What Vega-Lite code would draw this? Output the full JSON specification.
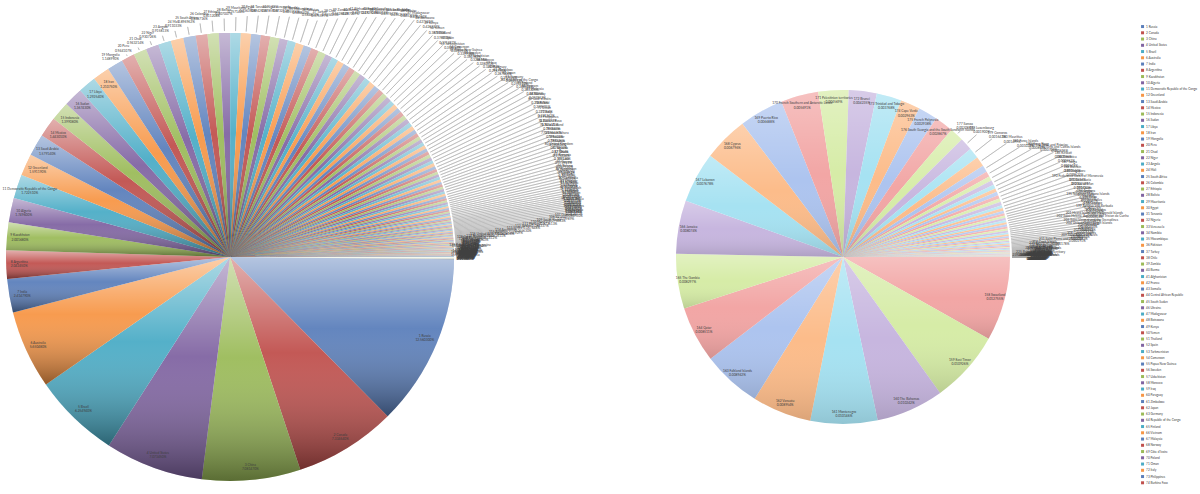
{
"$schema": "https://vega.github.io/schema/vega-lite/v6.json",
"padding": 0,
"background": "white",
"config": {"view": {"stroke": null}, "font": "Lato"},
"datasets": {
"main": [
{"n":1,"name":"1 Russia","share":0.125603},
{"n":2,"name":"2 Canada","share":0.0733464},
{"n":3,"name":"3 China","share":0.0708147},
{"n":4,"name":"4 United States","share":0.0707345},
{"n":5,"name":"5 Brazil","share":0.0625494},
{"n":6,"name":"6 Australia","share":0.0565048},
{"n":7,"name":"7 India","share":0.0241479},
{"n":8,"name":"8 Argentina","share":0.0204245},
{"n":9,"name":"9 Kazakhstan","share":0.0200168},
{"n":10,"name":"10 Algeria","share":0.017496},
{"n":11,"name":"11 Democratic Republic of the Congo","share":0.0172251},
{"n":12,"name":"12 Greenland","share":0.0159119},
{"n":13,"name":"13 Saudi Arabia","share":0.0157914},
{"n":14,"name":"14 Mexico","share":0.0144301},
{"n":15,"name":"15 Indonesia","share":0.0139908},
{"n":16,"name":"16 Sudan","share":0.0136743},
{"n":17,"name":"17 Libya","share":0.0129254},
{"n":18,"name":"18 Iran","share":0.0121075},
{"n":19,"name":"19 Mongolia","share":0.0114899},
{"n":20,"name":"20 Peru","share":0.00944107},
{"n":21,"name":"21 Chad","share":0.00943214},
{"n":22,"name":"22 Niger","share":0.00930726},
{"n":23,"name":"23 Angola","share":0.00915813},
{"n":24,"name":"24 Mali","share":0.00911033},
{"n":25,"name":"25 South Africa","share":0.00896962},
{"n":26,"name":"26 Colombia","share":0.00838716},
{"n":27,"name":"27 Ethiopia","share":0.00811208},
{"n":28,"name":"28 Bolivia","share":0.00807007},
{"n":29,"name":"29 Mauritania","share":0.00757142},
{"n":30,"name":"30 Egypt","share":0.0073639},
{"n":31,"name":"31 Tanzania","share":0.00694251},
{"n":32,"name":"32 Nigeria","share":0.00678591},
{"n":33,"name":"33 Venezuela","share":0.00673211},
{"n":34,"name":"34 Namibia","share":0.00605516},
{"n":35,"name":"35 Mozambique","share":0.0058884},
{"n":36,"name":"36 Pakistan","share":0.00584803},
{"n":37,"name":"37 Turkey","share":0.00575597},
{"n":38,"name":"38 Chile","share":0.00555425},
{"n":39,"name":"39 Zambia","share":0.00552861},
{"n":40,"name":"40 Burma","share":0.00497007},
{"n":41,"name":"41 Afghanistan","share":0.00479121},
{"n":42,"name":"42 France","share":0.00472929},
{"n":43,"name":"43 Somalia","share":0.00468416},
{"n":44,"name":"44 Central African Republic","share":0.00457637},
{"n":45,"name":"45 South Sudan","share":0.00455258},
{"n":46,"name":"46 Ukraine","share":0.00443325},
{"n":47,"name":"47 Madagascar","share":0.00431234},
{"n":48,"name":"48 Botswana","share":0.00427531},
{"n":49,"name":"49 Kenya","share":0.00426332},
{"n":50,"name":"50 Yemen","share":0.0038784},
{"n":51,"name":"51 Thailand","share":0.00376933},
{"n":52,"name":"52 Spain","share":0.00371697},
{"n":53,"name":"53 Turkmenistan","share":0.00358553},
{"n":54,"name":"54 Cameroon","share":0.00349255},
{"n":55,"name":"55 Papua New Guinea","share":0.00339998},
{"n":56,"name":"56 Sweden","share":0.00330782},
{"n":57,"name":"57 Uzbekistan","share":0.00328656},
{"n":58,"name":"58 Morocco","share":0.00328031},
{"n":59,"name":"59 Iraq","share":0.00321983},
{"n":60,"name":"60 Paraguay","share":0.00298796},
{"n":61,"name":"61 Zimbabwe","share":0.00287046},
{"n":62,"name":"62 Japan","share":0.00277624},
{"n":63,"name":"63 Germany","share":0.00262333},
{"n":64,"name":"64 Republic of the Congo","share":0.0025123},
{"n":65,"name":"65 Finland","share":0.00248603},
{"n":66,"name":"66 Vietnam","share":0.00243305},
{"n":67,"name":"67 Malaysia","share":0.00243005},
{"n":68,"name":"68 Norway","share":0.00237862},
{"n":69,"name":"69 Côte d'Ivoire","share":0.00236878},
{"n":70,"name":"70 Poland","share":0.00229695},
{"n":71,"name":"71 Oman","share":0.00227356},
{"n":72,"name":"72 Italy","share":0.00221362},
{"n":73,"name":"73 Philippines","share":0.00220377},
{"n":74,"name":"74 Burkina Faso","share":0.00201441},
{"n":75,"name":"75 New Zealand","share":0.00196657},
{"n":76,"name":"76 Gabon","share":0.00196626},
{"n":77,"name":"77 Western Sahara","share":0.00195401},
{"n":78,"name":"78 Ecuador","share":0.00188326},
{"n":79,"name":"79 Guinea","share":0.00180604},
{"n":80,"name":"80 United Kingdom","share":0.00178432},
{"n":81,"name":"81 Uganda","share":0.00177064},
{"n":82,"name":"82 Ghana","share":0.00175224},
{"n":83,"name":"83 Romania","share":0.0017512},
{"n":84,"name":"84 Laos","share":0.00173951},
{"n":85,"name":"85 Guyana","share":0.00157914},
{"n":86,"name":"86 Belarus","share":0.00152501},
{"n":87,"name":"87 Kyrgyzstan","share":0.00146882},
{"n":88,"name":"88 Senegal","share":0.0014451},
{"n":89,"name":"89 Syria","share":0.00136031},
{"n":90,"name":"90 Cambodia","share":0.00132986},
{"n":91,"name":"91 Uruguay","share":0.00129446},
{"n":92,"name":"92 Suriname","share":0.00120341},
{"n":93,"name":"93 Tunisia","share":0.00120186},
{"n":94,"name":"94 Bangladesh","share":0.00108404},
{"n":95,"name":"95 Nepal","share":0.00108118},
{"n":96,"name":"96 Tajikistan","share":0.0010512},
{"n":97,"name":"97 Greece","share":0.000969347},
{"n":98,"name":"98 Nicaragua","share":0.000957711},
{"n":99,"name":"99 North Korea","share":0.000885464},
{"n":100,"name":"100 Malawi","share":0.000870375},
{"n":101,"name":"101 Eritrea","share":0.000863878},
{"n":102,"name":"102 Benin","share":0.000843039},
{"n":103,"name":"103 Honduras","share":0.000826357},
{"n":104,"name":"104 Liberia","share":0.000818107},
{"n":105,"name":"105 Bulgaria","share":0.000814508},
{"n":106,"name":"106 Cuba","share":0.000807199},
{"n":107,"name":"107 Guatemala","share":0.000799889},
{"n":108,"name":"108 Iceland","share":0.000756628},
{"n":109,"name":"109 South Korea","share":0.000736133},
{"n":110,"name":"110 Hungary","share":0.000683374},
{"n":111,"name":"111 Portugal","share":0.000676484},
{"n":112,"name":"112 Jordan","share":0.000656297},
{"n":113,"name":"113 Serbia","share":0.000649091},
{"n":114,"name":"114 Azerbaijan","share":0.000636155},
{"n":115,"name":"115 Austria","share":0.000616108},
{"n":116,"name":"116 United Arab Emirates","share":0.000614117},
{"n":117,"name":"117 French Guiana","share":0.000613633},
{"n":118,"name":"118 Czech Republic","share":0.000579349},
{"n":119,"name":"119 Panama","share":0.000554006},
{"n":120,"name":"120 Sierra Leone","share":0.000526995},
{"n":121,"name":"121 Ireland","share":0.000516219},
{"n":122,"name":"122 Georgia","share":0.000512009},
{"n":123,"name":"123 Sri Lanka","share":0.000481964},
{"n":124,"name":"124 Lithuania","share":0.000479687},
{"n":125,"name":"125 Latvia","share":0.000474243},
{"n":126,"name":"126 Togo","share":0.000417137},
{"n":127,"name":"127 Croatia","share":0.000415734},
{"n":128,"name":"128 Bosnia and Herzegovina","share":0.000376176},
{"n":129,"name":"129 Costa Rica","share":0.000375375},
{"n":130,"name":"130 Slovakia","share":0.000360206},
{"n":131,"name":"131 Dominican Republic","share":0.000357532},
{"n":132,"name":"132 Estonia","share":0.00033224},
{"n":133,"name":"133 Denmark","share":0.000316564},
{"n":134,"name":"134 Netherlands","share":0.000307426},
{"n":135,"name":"135 Switzerland","share":0.000303268},
{"n":136,"name":"136 Bhutan","share":0.000282041},
{"n":137,"name":"137 Taiwan","share":0.000265872},
{"n":138,"name":"138 Guinea-Bissau","share":0.000265371},
{"n":139,"name":"139 Moldova","share":0.000248629},
{"n":140,"name":"140 Belgium","share":0.000224256},
{"n":141,"name":"141 Lesotho","share":0.000222985},
{"n":142,"name":"142 Armenia","share":0.000218491},
{"n":143,"name":"143 Solomon Islands","share":0.000212267},
{"n":144,"name":"144 Albania","share":0.00021118},
{"n":145,"name":"145 Equatorial Guinea","share":0.00020606},
{"n":146,"name":"146 Burundi","share":0.000204437},
{"n":147,"name":"147 Haiti","share":0.000203849},
{"n":148,"name":"148 Rwanda","share":0.000193476},
{"n":149,"name":"149 Macedonia","share":0.000188885},
{"n":150,"name":"150 Djibouti","share":0.000170425},
{"n":151,"name":"151 Belize","share":0.000168706},
{"n":152,"name":"152 El Salvador","share":0.000154565},
{"n":153,"name":"153 Israel","share":0.000152574},
{"n":154,"name":"154 Slovenia","share":0.000148923},
{"n":155,"name":"155 New Caledonia","share":0.00013645},
{"n":156,"name":"156 Fiji","share":0.000134224},
{"n":157,"name":"157 Kuwait","share":0.000130888},
{"n":158,"name":"Other","share":0.0015651}
],
"sub": [
{"n":158,"name":"158 Swaziland","share":0.000127554},
{"n":159,"name":"159 East Timor","share":0.000109263},
{"n":160,"name":"160 The Bahamas","share":0.000102424},
{"n":161,"name":"161 Montenegro","share":0.000101462},
{"n":162,"name":"162 Vanuatu","share":0.0000895392},
{"n":163,"name":"163 Falkland Islands","share":0.0000894217},
{"n":164,"name":"164 Qatar","share":0.0000851096},
{"n":165,"name":"165 The Gambia","share":0.000082972},
{"n":166,"name":"166 Jamaica","share":0.0000807388},
{"n":167,"name":"167 Lebanon","share":0.0000767793},
{"n":168,"name":"168 Cyprus","share":0.0000679569},
{"n":169,"name":"169 Puerto Rico","share":0.0000668771},
{"n":170,"name":"170 French Southern and Antarctic Lands","share":0.0000569087},
{"n":171,"name":"171 Palestinian territories","share":0.0000456915},
{"n":172,"name":"172 Brunei","share":0.0000423491},
{"n":173,"name":"173 Trinidad and Tobago","share":0.0000376845},
{"n":174,"name":"174 Cape Verde","share":0.000029626},
{"n":175,"name":"175 French Polynesia","share":0.0000293836},
{"n":176,"name":"176 South Georgia and the South Sandwich Islands","share":0.000028671},
{"n":177,"name":"177 Samoa","share":0.000020877},
{"n":178,"name":"178 Luxembourg","share":0.0000189965},
{"n":179,"name":"179 Comoros","share":0.0000164181},
{"n":180,"name":"180 Mauritius","share":0.0000149856},
{"n":181,"name":"181 Faroe Islands","share":0.0000102328},
{"n":182,"name":"182 Hong Kong","share":0.00000810987},
{"n":183,"name":"183 Sao Tome and Principe","share":0.00000708145},
{"n":184,"name":"184 Turks and Caicos Islands","share":0.00000696391},
{"n":185,"name":"185 Kiribati","share":0.00000595752},
{"n":186,"name":"186 Dominica","share":0.00000551677},
{"n":187,"name":"187 Tonga","share":0.00000548739},
{"n":188,"name":"188 Bahrain","share":0.00000544331},
{"n":189,"name":"189 Singapore","share":0.00000521559},
{"n":190,"name":"190 Federated States of Micronesia","share":0.00000515682},
{"n":191,"name":"191 Saint Lucia","share":0.00000452507},
{"n":192,"name":"192 Isle of Man","share":0.00000420185},
{"n":193,"name":"193 Guam","share":0.00000399617},
{"n":194,"name":"194 Andorra","share":0.00000343788},
{"n":195,"name":"195 Northern Mariana Islands","share":0.0000034085},
{"n":196,"name":"196 Palau","share":0.00000337177},
{"n":197,"name":"197 Seychelles","share":0.00000334238},
{"n":198,"name":"198 Curaçao","share":0.00000326158},
{"n":199,"name":"199 Antigua and Barbuda","share":0.00000324689},
{"n":200,"name":"200 Barbados","share":0.00000315874},
{"n":201,"name":"201 Heard Island and McDonald Islands","share":0.00000302651},
{"n":202,"name":"202 Saint Helena, Ascension and Tristan da Cunha","share":0.00000289428},
{"n":203,"name":"203 Saint Vincent and the Grenadines","share":0.00000285756},
{"n":204,"name":"204 United States Virgin Islands","share":0.00000254168},
{"n":205,"name":"205 Grenada","share":0.00000252699},
{"n":206,"name":"206 Malta","share":0.0000023213},
{"n":207,"name":"207 Maldives","share":0.00000218908},
{"n":208,"name":"208 Cayman Islands","share":0.00000193932},
{"n":209,"name":"209 Saint Kitts and Nevis","share":0.00000191728},
{"n":210,"name":"210 Niue","share":0.00000190993},
{"n":211,"name":"211 Saint Pierre and Miquelon","share":0.00000177771},
{"n":212,"name":"212 Cook Islands","share":0.00000173363},
{"n":213,"name":"213 American Samoa","share":0.00000146183},
{"n":214,"name":"214 Marshall Islands","share":0.00000132961},
{"n":215,"name":"215 Aruba","share":0.00000132226},
{"n":216,"name":"216 Liechtenstein","share":0.00000117534},
{"n":217,"name":"217 British Virgin Islands","share":0.00000110923},
{"n":218,"name":"218 Wallis and Futuna","share":0.00000104312},
{"n":219,"name":"219 Christmas Island","share":9.91697e-7},
{"n":220,"name":"220 Jersey","share":8.52124e-7},
{"n":221,"name":"221 Montserrat","share":7.49282e-7},
{"n":222,"name":"222 Anguilla","share":6.68477e-7},
{"n":223,"name":"223 Guernsey","share":5.7298e-7},
{"n":224,"name":"224 San Marino","share":4.481e-7},
{"n":225,"name":"225 British Indian Ocean Territory","share":4.40754e-7},
{"n":226,"name":"226 Bermuda","share":3.96679e-7},
{"n":227,"name":"227 Saint Martin","share":3.96679e-7},
{"n":228,"name":"228 Bouvet Island","share":3.59949e-7},
{"n":229,"name":"229 Pitcairn Islands","share":3.45257e-7},
{"n":230,"name":"230 Norfolk Island","share":2.64452e-7},
{"n":231,"name":"231 Sint Maarten","share":2.49761e-7},
{"n":232,"name":"232 Macau","share":2.20377e-7},
{"n":233,"name":"233 Tuvalu","share":1.90993e-7},
{"n":234,"name":"234 Nauru","share":1.54264e-7},
{"n":235,"name":"235 Cocos (Keeling) Islands","share":1.02843e-7},
{"n":236,"name":"236 Tokelau","share":8.81508e-8},
{"n":237,"name":"237 Gibraltar","share":4.99521e-8},
{"n":238,"name":"238 Clipperton Island","share":4.40754e-8},
{"n":239,"name":"239 Ashmore and Cartier Islands","share":3.67295e-8},
{"n":240,"name":"240 Coral Sea Islands","share":2.20377e-8},
{"n":241,"name":"241 Monaco","share":1.48387e-8},
{"n":242,"name":"242 Vatican City","share":3.2322e-9}
]
},
"spacing": 213,
"bounds": "flush",
"resolve": {"scale": {"color": "independent", "theta": "independent", "radius": "independent"}, "legend": {"color": "independent"}},
"hconcat": [
{
"width": 460, "height": 494,
"data": {"name": "main"},
"transform": [{"stack": "share", "groupby": [], "sort": [{"field": "n", "order": "ascending"}], "as": ["s0", "s1"]}],
"layer": [
{"mark": {"type": "arc", "outerRadius": 224, "yOffset": 10},
 "encoding": {
   "theta": {"field": "s0", "type": "quantitative", "stack": null, "scale": {"range": [1.5707963, 7.8539816], "zero": true, "nice": false}},
   "theta2": {"field": "s1"},
   "color": {"field": "name", "type": "nominal", "sort": {"field": "n", "op": "min", "order": "ascending"},
   "condition": {"test": "datum.n === 158", "value": "#dfe8cb"},
   "scale": {"range": ["#5b7fbb", "#c0504d", "#9bbb59", "#8064a2", "#4bacc6", "#f79646"]},
   "legend": {"orient": "none", "legendX": 1141, "legendY": 25, "title": null, "direction": "vertical", "symbolType": "square", "symbolSize": 9, "symbolStrokeWidth": 0, "symbolLimit": 100, "labelFontSize": 3.1, "labelFont": "Lato", "labelColor": "#404040", "rowPadding": 2.25, "labelOffset": 2, "labelLimit": 55,
   "values": ["1 Russia","2 Canada","3 China","4 United States","5 Brazil","6 Australia","7 India","8 Argentina","9 Kazakhstan","10 Algeria","11 Democratic Republic of the Congo","12 Greenland","13 Saudi Arabia","14 Mexico","15 Indonesia","16 Sudan","17 Libya","18 Iran","19 Mongolia","20 Peru","21 Chad","22 Niger","23 Angola","24 Mali","25 South Africa","26 Colombia","27 Ethiopia","28 Bolivia","29 Mauritania","30 Egypt","31 Tanzania","32 Nigeria","33 Venezuela","34 Namibia","35 Mozambique","36 Pakistan","37 Turkey","38 Chile","39 Zambia","40 Burma","41 Afghanistan","42 France","43 Somalia","44 Central African Republic","45 South Sudan","46 Ukraine","47 Madagascar","48 Botswana","49 Kenya","50 Yemen","51 Thailand","52 Spain","53 Turkmenistan","54 Cameroon","55 Papua New Guinea","56 Sweden","57 Uzbekistan","58 Morocco","59 Iraq","60 Paraguay","61 Zimbabwe","62 Japan","63 Germany","64 Republic of the Congo","65 Finland","66 Vietnam","67 Malaysia","68 Norway","69 Côte d'Ivoire","70 Poland","71 Oman","72 Italy","73 Philippines","74 Burkina Faso"]}}}},
{"mark": {"type": "arc", "outerRadius": 224, "yOffset": 10, "fill": {"gradient": "linear", "x1": 0, "y1": 0, "x2": 0, "y2": 1, "stops": [{"offset": 0, "color": "rgba(255,255,255,0.55)"}, {"offset": 0.45, "color": "rgba(255,255,255,0.05)"}, {"offset": 1, "color": "rgba(0,0,0,0.42)"}]}},
 "encoding": {
   "theta": {"field": "s0", "type": "quantitative", "stack": null, "scale": {"range": [1.5707963, 7.8539816], "zero": true, "nice": false}},
   "theta2": {"field": "s1"}}},
{"mark": {"type": "arc", "innerRadius": 226, "padAngle": 1, "yOffset": 10, "filled": false, "stroke": "#a6a6a6", "strokeWidth": 0.5},
 "encoding": {
   "theta": {"field": "s0", "type": "quantitative", "stack": null, "scale": {"range": [1.5707963, 7.8539816], "zero": true, "nice": false}},
   "theta2": {"field": "s1"},
   "radius": {"field": "n", "type": "quantitative", "scale": {"type": "linear", "zero": false, "nice": false, "clamp": true, "domain": [1, 18, 19, 25, 37, 47, 53, 67, 106, 118, 157], "range": [204, 204, 226, 234, 252, 300, 300, 340, 340, 235, 228]}},
   "strokeOpacity": {"condition": {"test": "datum.n < 19 || datum.n > 157", "value": 0}, "value": 1}}},
{"transform": [{"filter": "datum.n < 158"}, {"fold": ["s0", "s1"], "as": ["k", "v"]}, {"aggregate": [{"op": "mean", "field": "v", "as": "mid"}], "groupby": ["n", "name", "share"]}],
 "mark": {"type": "text", "yOffset": 10, "dy": -2, "radiusOffset": 7, "fontSize": 3.3, "font": "Lato", "color": "#404040"},
 "encoding": {
   "theta": {"field": "mid", "type": "quantitative", "stack": null, "scale": {"range": [1.5707963, 7.8539816], "zero": true, "nice": false}},
   "radius": {"field": "n", "type": "quantitative", "scale": {"type": "linear", "zero": false, "nice": false, "clamp": true, "domain": [1, 18, 19, 25, 37, 47, 53, 67, 106, 118, 157], "range": [204, 204, 226, 234, 252, 300, 300, 340, 340, 235, 228]}},
   "text": {"field": "name", "type": "nominal"}}},
{"transform": [{"filter": "datum.n < 158"}, {"fold": ["s0", "s1"], "as": ["k", "v"]}, {"aggregate": [{"op": "mean", "field": "v", "as": "mid"}], "groupby": ["n", "name", "share"]}],
 "mark": {"type": "text", "yOffset": 10, "dy": 2.2, "radiusOffset": 7, "fontSize": 3.3, "font": "Lato", "color": "#404040"},
 "encoding": {
   "theta": {"field": "mid", "type": "quantitative", "stack": null, "scale": {"range": [1.5707963, 7.8539816], "zero": true, "nice": false}},
   "radius": {"field": "n", "type": "quantitative", "scale": {"type": "linear", "zero": false, "nice": false, "clamp": true, "domain": [1, 18, 19, 25, 37, 47, 53, 67, 106, 118, 157], "range": [204, 204, 226, 234, 252, 300, 300, 340, 340, 235, 228]}},
   "text": {"field": "share", "type": "quantitative", "format": ".6%"}}}
]
},
{
"width": 340, "height": 494,
"data": {"name": "sub"},
"transform": [{"stack": "share", "groupby": [], "sort": [{"field": "n", "order": "ascending"}], "as": ["s0", "s1"]}],
"layer": [
{"mark": {"type": "arc", "outerRadius": 167, "yOffset": 10},
 "encoding": {
   "theta": {"field": "s0", "type": "quantitative", "stack": null, "scale": {"range": [1.5707963, 7.8539816], "zero": true, "nice": false}},
   "theta2": {"field": "s1"},
   "color": {"field": "name", "type": "nominal", "sort": {"field": "n", "op": "min", "order": "ascending"},
   "scale": {"range": ["#f2a6a5", "#d6eca7", "#c7b6df", "#a6e2f2", "#fcbc8a", "#adc4ef"]}, "legend": null}}},
{"mark": {"type": "arc", "outerRadius": 167, "yOffset": 10, "fill": {"gradient": "linear", "x1": 0, "y1": 0, "x2": 0, "y2": 1, "stops": [{"offset": 0, "color": "rgba(255,255,255,0.3)"}, {"offset": 0.5, "color": "rgba(255,255,255,0)"}, {"offset": 1, "color": "rgba(0,0,0,0.13)"}]}},
 "encoding": {
   "theta": {"field": "s0", "type": "quantitative", "stack": null, "scale": {"range": [1.5707963, 7.8539816], "zero": true, "nice": false}},
   "theta2": {"field": "s1"}}},
{"mark": {"type": "arc", "innerRadius": 169, "padAngle": 1, "yOffset": 10, "filled": false, "stroke": "#a6a6a6", "strokeWidth": 0.5},
 "encoding": {
   "theta": {"field": "s0", "type": "quantitative", "stack": null, "scale": {"range": [1.5707963, 7.8539816], "zero": true, "nice": false}},
   "theta2": {"field": "s1"},
   "radius": {"field": "n", "type": "quantitative", "scale": {"type": "linear", "zero": false, "nice": false, "clamp": true, "domain": [158, 176, 177, 184, 200, 210, 212, 242], "range": [150, 150, 172, 235, 250, 228, 195, 185]}},
   "strokeOpacity": {"condition": {"test": "datum.n < 177", "value": 0}, "value": 1}}},
{"transform": [{"fold": ["s0", "s1"], "as": ["k", "v"]}, {"aggregate": [{"op": "mean", "field": "v", "as": "mid"}], "groupby": ["n", "name", "share"]}],
 "mark": {"type": "text", "yOffset": 10, "dy": -2, "radiusOffset": 7, "fontSize": 3.3, "font": "Lato", "color": "#404040"},
 "encoding": {
   "theta": {"field": "mid", "type": "quantitative", "stack": null, "scale": {"range": [1.5707963, 7.8539816], "zero": true, "nice": false}},
   "radius": {"field": "n", "type": "quantitative", "scale": {"type": "linear", "zero": false, "nice": false, "clamp": true, "domain": [158, 176, 177, 184, 200, 210, 212, 242], "range": [150, 150, 172, 235, 250, 228, 195, 185]}},
   "text": {"field": "name", "type": "nominal"}}},
{"transform": [{"fold": ["s0", "s1"], "as": ["k", "v"]}, {"aggregate": [{"op": "mean", "field": "v", "as": "mid"}], "groupby": ["n", "name", "share"]}],
 "mark": {"type": "text", "yOffset": 10, "dy": 2.2, "radiusOffset": 7, "fontSize": 3.3, "font": "Lato", "color": "#404040"},
 "encoding": {
   "theta": {"field": "mid", "type": "quantitative", "stack": null, "scale": {"range": [1.5707963, 7.8539816], "zero": true, "nice": false}},
   "radius": {"field": "n", "type": "quantitative", "scale": {"type": "linear", "zero": false, "nice": false, "clamp": true, "domain": [158, 176, 177, 184, 200, 210, 212, 242], "range": [150, 150, 172, 235, 250, 228, 195, 185]}},
   "text": {"field": "share", "type": "quantitative", "format": ".6%"}}}
]
}
]
}
